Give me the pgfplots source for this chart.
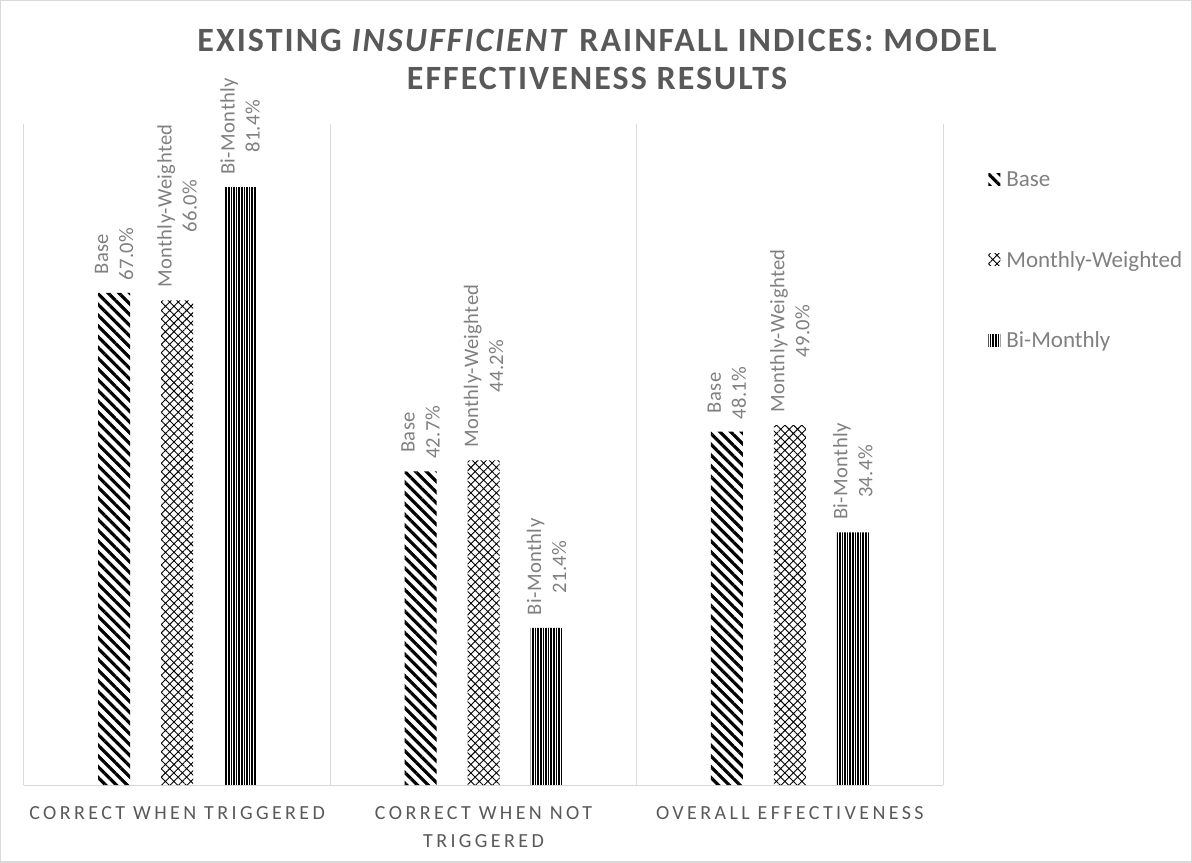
\documentclass[border=0pt]{standalone}
\usepackage{fontspec}
\setmainfont{Carlito}
\newfontfamily\spacedfont[LetterSpace=17]{Carlito}
\newfontfamily\titlefont[LetterSpace=6]{Carlito}
\newfontfamily\labelfont[LetterSpace=2]{Carlito}
\usepackage{pgfplots}
\pgfplotsset{compat=1.18}
\usetikzlibrary{patterns.meta}
\definecolor{titlegray}{HTML}{595959}
\definecolor{labelgray}{HTML}{808080}
\definecolor{gridgray}{HTML}{D9D9D9}

\begin{document}
\begin{tikzpicture}
\useasboundingbox (0,0) rectangle (596pt,431pt);
\draw[gridgray, line width=1pt] (0,0) rectangle (596pt,431pt);
\node[align=center, text=titlegray, font=\titlefont\fontsize{17}{19}\selectfont\bfseries]
  at (298.5pt,401.5pt) {EXISTING \textit{INSUFFICIENT} RAINFALL INDICES: MODEL\\EFFECTIVENESS RESULTS};
\begin{axis}[
    at={(12pt,38.5pt)}, anchor=south west,
    scale only axis, width=459.5pt, height=330.5pt,
    ymin=0, ymax=90, xmin=-0.5, xmax=2.5,
    ytick=\empty,
    xtick={0,1,2},
    xticklabels={CORRECT WHEN TRIGGERED, {CORRECT WHEN NOT\\TRIGGERED}, OVERALL EFFECTIVENESS},
    xticklabel style={font=\spacedfont\fontsize{10}{14}\selectfont, text=titlegray, align=center, yshift=-7pt},
    minor xtick={-0.5,0.5,1.5,2.5},
    xminorgrids=true,
    minor grid style={gridgray, line width=0.5pt},
    axis x line*=bottom, axis y line=none,
    axis line style={gridgray, line width=0.5pt, -},
    major tick length=0pt, minor tick length=0pt,
    ybar, bar width=16pt,
    clip=false,
    /pgf/number format/.cd, fixed, fixed zerofill, precision=1, assume math mode=true, /pgfplots/.cd,
    every node near coord/.append style={rotate=90, anchor=west, align=center,
        font=\labelfont\fontsize{10.3}{12.5}\selectfont, text=labelgray, inner xsep=6pt, inner ysep=0pt},
    legend style={at={(1.049,0.937)}, anchor=north west, draw=none, fill=none,
        font=\fontsize{11.5}{13}\selectfont, text=labelgray, row sep=24.7pt, inner sep=0pt,
        nodes={inner sep=3pt}},
    legend cell align=left,
    legend image code/.code={\fill[#1] (0pt,-2.5pt) rectangle (6pt,3.5pt);},
  ]
  % Base
  \addplot[draw=none, pattern={Lines[angle=-45,distance=3.8pt,line width=1.6pt]}, pattern color=black,
    bar shift=-31.5pt, nodes near coords={Base\\\pgfmathprintnumber{\pgfplotspointmeta}\%}]
    coordinates {(0,67.0) (1,42.7) (2,48.1)};
  % Monthly-Weighted
  \addplot[draw=none, pattern={Hatch[angle=45,distance=3pt,line width=0.45pt]}, pattern color=black,
    bar shift=0pt, nodes near coords={Monthly-Weighted\\\pgfmathprintnumber{\pgfplotspointmeta}\%}]
    coordinates {(0,66.0) (1,44.2) (2,49.0)};
  % Bi-Monthly
  \addplot[draw=none, pattern={Lines[angle=90,distance=1.3pt,line width=0.75pt]}, pattern color=black,
    bar shift=31.5pt, nodes near coords={Bi-Monthly\\\pgfmathprintnumber{\pgfplotspointmeta}\%}]
    coordinates {(0,81.4) (1,21.4) (2,34.4)};
  \legend{Base, Monthly-Weighted, Bi-Monthly}
\end{axis}
\end{tikzpicture}
\end{document}
